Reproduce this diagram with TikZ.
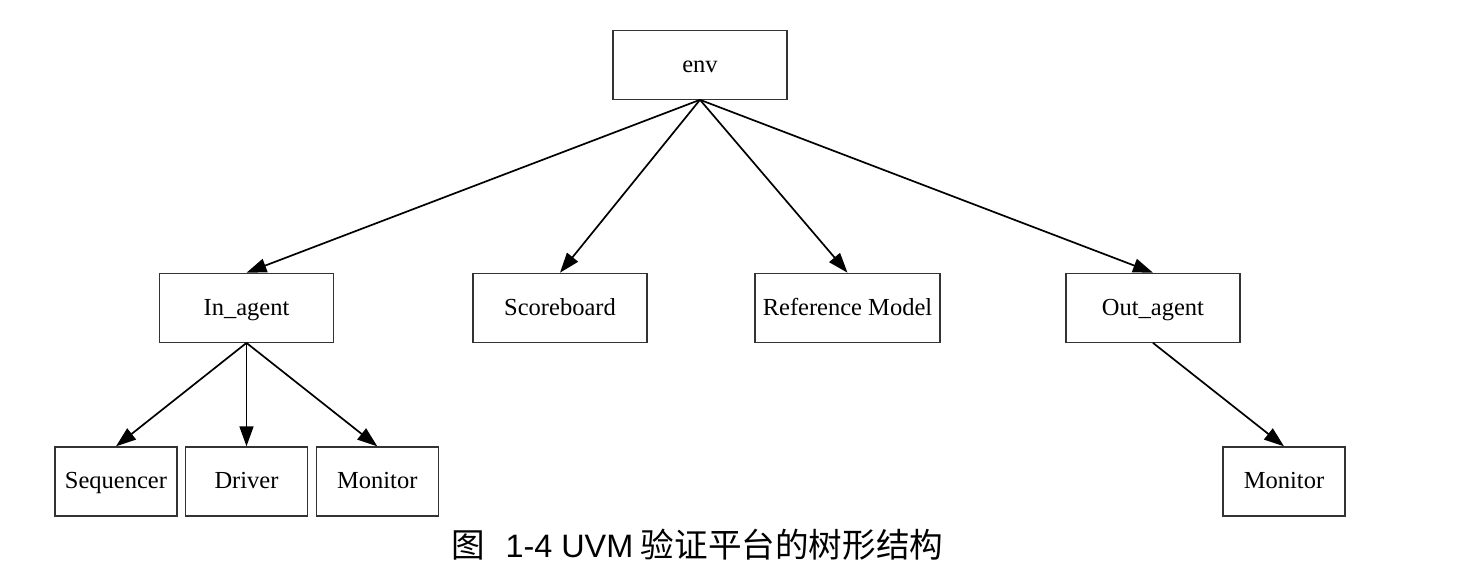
\documentclass[tikz,border=0pt]{standalone}
\usepackage{fontspec}
\setmainfont{Liberation Serif}
\newfontfamily\cjk{Noto Sans CJK SC}
\newfontfamily\capsans{Liberation Sans}
\usetikzlibrary{arrows.meta}

\tikzset{
  box/.style = {draw = black!80, line width = 0.6pt, rectangle, minimum width = 87pt, minimum height = 34.5pt, inner sep = 0pt, text height = 9pt, text depth = 1.5pt, font = \fontsize{12.25}{14}\selectfont},
  leaf/.style = {box, minimum width = 61pt},
  link/.style = {-{Triangle[length = 10pt, width = 7pt]}, line width = 0.85pt}
}

\begin{document}
\begin{tikzpicture}[x = 0.5pt, y = -0.5pt]
\useasboundingbox (0,0) rectangle (1458,580);
\node[box] (env) at (700,64.7) {env};
\node[box] (inagent) at (246.5,307.8) {In\_agent};
\node[box] (scoreboard) at (560,307.8) {Scoreboard};
\node[box, minimum width = 92.5pt] (refmodel) at (847.5,307.8) {Reference Model};
\node[box] (outagent) at (1153,307.8) {Out\_agent};
\node[leaf] (sequencer) at (116,481.4) {Sequencer};
\node[leaf] (driver) at (246.5,481.4) {Driver};
\node[leaf] (inmonitor) at (377.3,481.4) {Monitor};
\node[leaf] (outmonitor) at (1284,481.4) {Monitor};
\draw [link] (env.south) -- (inagent.north);
\draw [link] (env.south) -- (scoreboard.north);
\draw [link] (env.south) -- (refmodel.north);
\draw [link] (env.south) -- (outagent.north);
\draw [link] (inagent.south) -- (sequencer.north);
\draw [link] (inagent.south) -- (driver.north);
\draw [link] (inagent.south) -- (inmonitor.north);
\draw [link] (outagent.south) -- (outmonitor.north);
\node (caption) at (697.5,545) {\fontsize{16.8}{18}\selectfont\cjk 图\hspace{0.6em}{\capsans\fontsize{16.2}{18}\selectfont 1-4 UVM} 验证平台的树形结构};
\end{tikzpicture}
\end{document}
